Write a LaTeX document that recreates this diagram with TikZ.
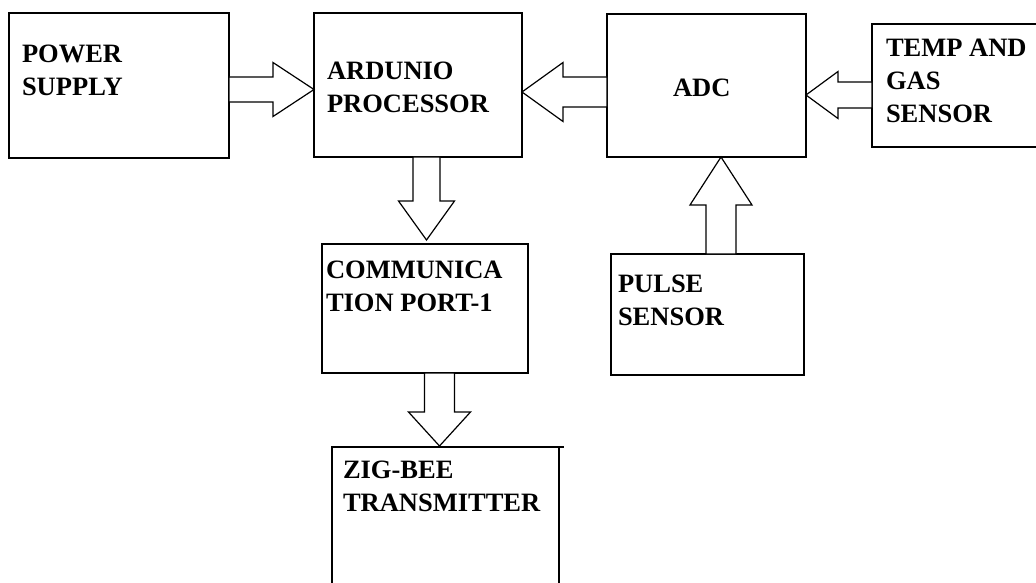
\documentclass[tikz,border=0pt]{standalone}
\usepackage{fontspec}
\setmainfont{Liberation Serif}
\usetikzlibrary{calc}
\tikzset{
  box/.style={draw=black, line width=1.3pt, inner sep=0pt, outer sep=0pt, anchor=north west, fill=none},
  blk/.style={draw=black, line width=1.2pt, line join=miter, fill=white},
  txt/.style={anchor=base west, inner sep=0pt, outer sep=0pt, text=black,
              font=\fontsize{26.5}{33}\selectfont\bfseries},
}
% block arrow from #1 to #2: shaft half width #3, head half width #4, head length #5
\newcommand\blockarrow[5]{%
  \draw[blk] ($(#1)!#3!90:(#2)$) -- ($(#2)!#5!(#1)!#3!-90:(#1)$) -- ($(#2)!#5!(#1)!#4!-90:(#1)$)
    -- (#2) -- ($(#2)!#5!(#1)!#4!90:(#1)$) -- ($(#2)!#5!(#1)!#3!90:(#1)$) -- ($(#1)!#3!-90:(#2)$) -- cycle;}
\newcommand\lines[1]{\begin{tabular}[t]{@{}l@{}}#1\end{tabular}}
\begin{document}
\begin{tikzpicture}[x=1pt,y=1pt]
\useasboundingbox[fill=white] (0,0) rectangle (1036,-583);
% boxes
\node[box, minimum width=220pt, minimum height=145pt] (ps) at (9,-13) {};
\node[box, minimum width=208pt, minimum height=144pt] (ard) at (314,-13) {};
\node[box, minimum width=199pt, minimum height=143pt] (adc) at (607,-14) {};
\node[box, minimum width=190pt, minimum height=123pt] (temp) at (872,-24) {};
\node[box, minimum width=206pt, minimum height=129pt] (comm) at (322,-244) {};
\node[box, minimum width=193pt, minimum height=121pt] (pulse) at (611,-254) {};
\node[box, minimum width=227pt, minimum height=160pt] (zig) at (332,-447) {};
\draw[line width=1.3pt] (zig.north east) -- ++(5,0);
% texts
\node[txt] (pst) at (22,-63) {\lines{POWER\\SUPPLY}};
\node[txt] (ardt) at (327,-80) {\lines{ARDUNIO\\PROCESSOR}};
\node[txt] (adct) at (673,-97) {ADC};
\node[txt] (tempt) at (886,-57) {\lines{TEMP AND\\GAS\\SENSOR}};
\node[txt] (commt) at (326,-278) {\lines{COMMUNICA\\TION PORT-1}};
\node[txt] (pulset) at (618,-292) {\lines{PULSE\\SENSOR}};
\node[txt] (zigt) at (343,-478) {\lines{ZIG-BEE\\TRANSMITTER}};
% arrow end points
\coordinate (psout) at (ps.east |- 0,-89.5);
\coordinate (ardin) at (ard.west |- 0,-89.5);
\coordinate (ardout) at (ard.south -| 426.5,0);
\coordinate (commin) at (426.5,-240);
\coordinate (adcout) at (adc.west |- 0,-92);
\coordinate (ardin2) at (ard.east |- 0,-92);
\coordinate (tempout) at (temp.west |- 0,-95);
\coordinate (adcin) at (adc.east |- 0,-95);
\coordinate (pulseout) at (pulse.north -| 721,0);
\coordinate (adcin2) at (adc.south -| 721,0);
\coordinate (commout) at (comm.south -| 439.5,0);
\coordinate (zigin) at (439.5,-446);
% arrows
\blockarrow{psout}{ardin}{12.5pt}{27pt}{41pt}
\blockarrow{ardout}{commin}{13.5pt}{28pt}{39pt}
\blockarrow{adcout}{ardin2}{15pt}{29.5pt}{41pt}
\blockarrow{tempout}{adcin}{13pt}{23.5pt}{32pt}
\blockarrow{pulseout}{adcin2}{15pt}{31pt}{48pt}
\blockarrow{commout}{zigin}{15pt}{31pt}{34pt}
\end{tikzpicture}
\end{document}
